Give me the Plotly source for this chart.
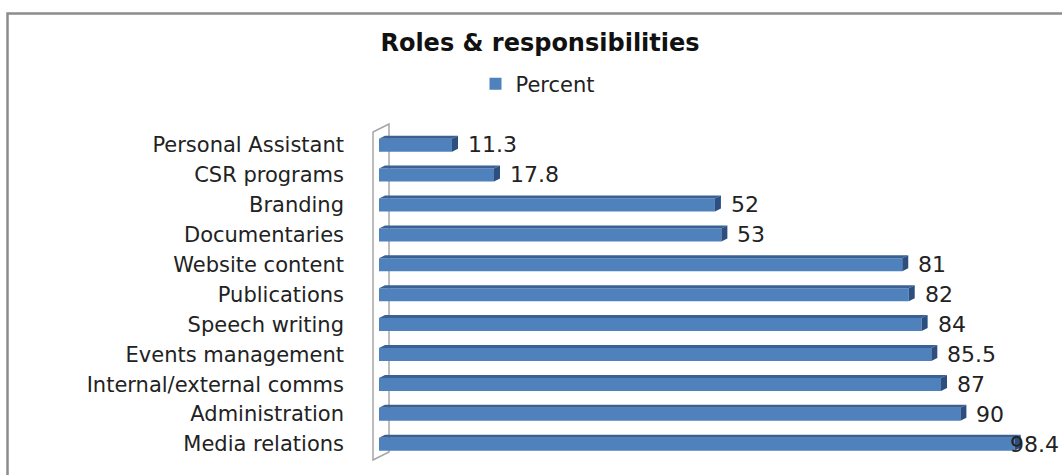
import plotly.graph_objects as go

categories = ["Personal Assistant", "CSR programs", "Branding", "Documentaries",
              "Website content", "Publications", "Speech writing", "Events management",
              "Internal/external comms", "Administration", "Media relations"]
percent = [11.3, 17.8, 52, 53, 81, 82, 84, 85.5, 87, 90, 98.4]
labels = ["11.3", "17.8", "52", "53", "81", "82", "84", "85.5", "87", "90", "98.4"]

W, H = 1062, 475
ML, MR, MT, MB = 379, 37, 130, 16
PW, PH = W - ML - MR, H - MT - MB
XMAX = 100.0
n = len(categories)
ypos = [n - 1 - i for i in range(n)]  # first category at top

def px_to_paper_x(px):
    return (px - ML) / PW

def px_to_paper_y(py):
    return (H - MB - py) / PH

FRONT = "#4F81BD"
TOP = "#3A6194"
SIDE = "#2C4F80"
FONT = "DejaVu Sans"

UNIT_Y = PH / n
front_off = -6.7 / UNIT_Y
front_w = 13.0 / UNIT_Y
dx = 6 * XMAX / PW          # depth in x units (6px)
dy = 3.0 / UNIT_Y           # depth in y units

fig = go.Figure()
fig.add_trace(go.Bar(
    y=ypos, x=percent, orientation="h", name="Percent",
    marker=dict(color=FRONT, line=dict(width=0)),
    width=front_w, offset=front_off, showlegend=True,
    hoverinfo="x+y",
))

shapes = []
wall = (f"M {px_to_paper_x(373)},{px_to_paper_y(132)} L {px_to_paper_x(389)},{px_to_paper_y(124)} "
        f"L {px_to_paper_x(389)},{px_to_paper_y(452)} L {px_to_paper_x(373)},{px_to_paper_y(460)} Z")
shapes.append(dict(type="path", xref="paper", yref="paper", layer="below",
                   path=wall, fillcolor="white", line=dict(color="#A6A6A6", width=1.5)))
for yv, v in zip(ypos, percent):
    y0 = yv + front_off
    y1 = y0 + front_w
    shapes.append(dict(type="path", xref="x", yref="y", layer="above",
                       path=f"M 0,{y1} L {v},{y1} L {v+dx},{y1+dy} L {dx},{y1+dy} Z",
                       fillcolor=TOP, line=dict(width=0)))
    shapes.append(dict(type="path", xref="x", yref="y", layer="above",
                       path=f"M {v},{y0} L {v},{y1} L {v+dx},{y1+dy} L {v+dx},{y0+dy} Z",
                       fillcolor=SIDE, line=dict(width=0)))
shapes.append(dict(type="rect", xref="paper", yref="paper", layer="below",
                   x0=px_to_paper_x(7.5), y0=px_to_paper_y(490),
                   x1=px_to_paper_x(1080), y1=px_to_paper_y(13.5),
                   line=dict(color="#8C8C8C", width=2.5), fillcolor="rgba(0,0,0,0)"))

annotations = []
for yv, v, t in zip(ypos, percent, labels):
    shift = 14 if v < 95 else -7
    annotations.append(dict(x=v, y=yv, xref="x", yref="y", text=t, showarrow=False,
                            xanchor="left", yanchor="middle", xshift=shift,
                            font=dict(family=FONT, size=22, color="#222222")))

fig.update_layout(
    width=W, height=H,
    margin=dict(l=ML, r=MR, t=MT, b=MB, pad=0),
    paper_bgcolor="white", plot_bgcolor="rgba(0,0,0,0)",
    title=dict(text="<b>Roles & responsibilities</b>", x=540 / W, xanchor="center",
               y=1 - 43 / H, yanchor="middle",
               font=dict(family=FONT, size=24, color="#111111")),
    legend=dict(x=px_to_paper_x(538), y=px_to_paper_y(84), xanchor="center", yanchor="middle",
                xref="paper", yref="paper", orientation="h",
                font=dict(family=FONT, size=21, color="#222222"),
                bgcolor="rgba(0,0,0,0)", itemwidth=30),
    xaxis=dict(range=[0, XMAX], visible=False, fixedrange=True),
    yaxis=dict(range=[-0.5, n - 0.5], tickmode="array", tickvals=ypos, ticktext=categories,
               showgrid=False, zeroline=False, showline=False, ticks="",
               ticklabelstandoff=34, fixedrange=True,
               tickfont=dict(family=FONT, size=21, color="#222222")),
    shapes=shapes, annotations=annotations,
)
fig.write_html("out.html", config={"displayModeBar": False},
               post_script="document.body.style.margin='0';document.body.style.overflow='hidden';")
